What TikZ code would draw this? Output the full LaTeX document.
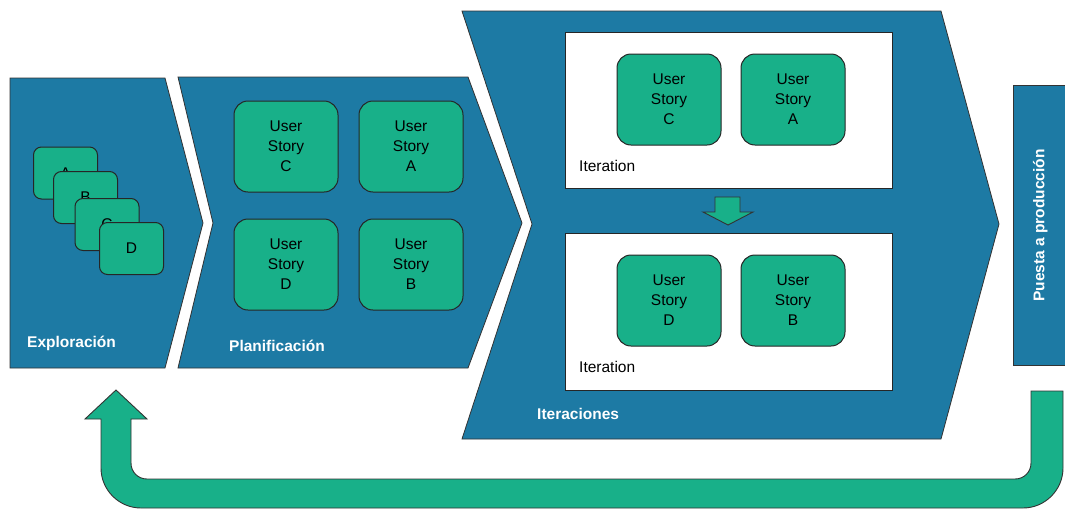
\documentclass[tikz,border=0pt]{standalone}
\usepackage{fontspec}
\setmainfont{Liberation Sans}
\usetikzlibrary{positioning}

\definecolor{phaseblue}{RGB}{29,122,164}
\definecolor{storygreen}{RGB}{24,176,137}

\begin{document}
\begin{tikzpicture}[
		x=1pt, y=-1pt,
		every node/.style={font=\fontsize{15.5}{20}\selectfont},
		phase/.style={draw=black!80, fill=phaseblue, line width=0.8pt},
		story/.style={draw=black!85, fill=storygreen, rounded corners=14pt, minimum width=104pt, minimum height=91pt, align=center, inner sep=0pt, line width=1pt},
		card/.style={draw=black!85, fill=storygreen, rounded corners=8pt, minimum width=64pt, minimum height=52pt, inner sep=0pt, line width=1pt},
		phaselabel/.style={text=white, font=\fontsize{15.5}{18}\selectfont\bfseries, anchor=west, inner sep=0pt},
		iterbox/.style={draw=black!85, fill=white, minimum width=327pt, inner sep=0pt, line width=1pt},
		iterlabel/.style={anchor=west, inner sep=0pt},
		bigarrow/.style={draw=black!80, fill=storygreen, line width=0.9pt}
		]
		\useasboundingbox (0,0) rectangle (1065,509);
		
		% phases
		\draw[phase] (10,78) -- (165,78) -- (203,223) -- (165,368) -- (10,368) -- cycle;
		\draw[phase] (178,77) -- (468,77) -- (522,223) -- (468,368) -- (178,368) -- (213,223) -- cycle;
		\draw[phase] (462,11) -- (941,11) -- (999,224) -- (941,439) -- (462,439) -- (532,224) -- cycle;
		\node[phase, minimum width=54pt, minimum height=280pt, anchor=north west, inner sep=0pt] (deploy) at (1013,85) {};
		\node[text=white, font=\fontsize{15.5}{18}\selectfont\bfseries, rotate=90] (deploylabel) at (deploy.center) {Puesta a producción};
		
		% Exploracion
		\node[card] (cardA) at (65.5,173) {A};
		\node[card] (cardB) at (85.5,197.5) {B};
		\node[card] (cardC) at (107,224.5) {C};
		\node[card] (cardD) at (131.5,248.5) {D};
		\node[phaselabel] (explore) at (27,343) {Exploración};
		
		% Planificacion
		\node[story] (planC) at (286,146.5) {User\\Story\\C};
		\node[story, right = 20pt of planC] (planA) {User\\Story\\A};
		\node[story, below = 26pt of planC] (planD) {User\\Story\\D};
		\node[story, right = 20pt of planD] (planB) {User\\Story\\B};
		\node[phaselabel] (plan) at (229,346) {Planificación};
		
		% Iteraciones
		\node[iterbox, minimum height=156pt] (iterTop) at (728.5,110) {};
		\node[iterbox, minimum height=157pt] (iterBottom) at (728.5,311.5) {};
		\node[story] (itC) at (669,99.5) {User\\Story\\C};
		\node[story, right = 19pt of itC] (itA) {User\\Story\\A};
		\node[story] (itD) at (669,300.5) {User\\Story\\D};
		\node[story, right = 19pt of itD] (itB) {User\\Story\\B};
		\node[iterlabel] (iterTopLabel) at (579,166) {Iteration};
		\node[iterlabel] (iterBottomLabel) at (579,367) {Iteration};
		\node[phaselabel] (iterations) at (537,414) {Iteraciones};
		
		\draw[bigarrow] (715,197) -- (740,197) -- (740,212) -- (753,212) -- (728,225) -- (703,212) -- (715,212) -- cycle;
		
		% back to exploration
		\draw[bigarrow] (1031,391) -- (1063,391) -- (1063,468) .. controls (1063,490) and (1045,508) .. (1023,508)
		-- (141,508) .. controls (119,508) and (101,490) .. (101,468) -- (101,419) -- (85,419) -- (116,390)
		-- (147,419) -- (131,419) -- (131,463) .. controls (131,472) and (138,479) .. (147,479)
		-- (1015,479) .. controls (1024,479) and (1031,472) .. (1031,463) -- cycle;
		
	\end{tikzpicture}
\end{document}
